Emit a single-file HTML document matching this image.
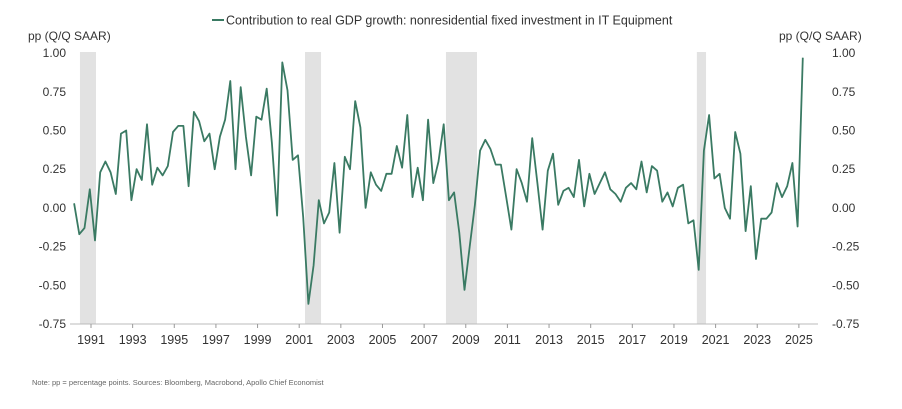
<!DOCTYPE html>
<html><head><meta charset="utf-8"><style>
body{margin:0;background:#fff;font-family:"Liberation Sans",sans-serif;}
svg text{font-family:"Liberation Sans",sans-serif;fill:#333;}
</style></head><body>
<svg id="chart" width="902" height="404">
<g id="bands"></g>
<line x1="70" y1="324" x2="818" y2="324" stroke="#bbb" stroke-width="1"/>
<g id="xticks"></g><g id="yticksL"></g><g id="yticksR"></g>
<path id="series" fill="none" stroke="#3a7a63" stroke-width="1.8" stroke-linejoin="round"/>
<text x="28" y="40" font-size="12">pp (Q/Q SAAR)</text>
<text x="779" y="40" font-size="12">pp (Q/Q SAAR)</text>
<g>
<line x1="212" y1="20" x2="224" y2="20" stroke="#3a7a63" stroke-width="2"/>
<text x="226" y="24.5" font-size="12.5">Contribution to real GDP growth: nonresidential fixed investment in IT Equipment</text>
</g>
<text x="32" y="385" font-size="7.5" fill="#666" style="fill:#666">Note: pp = percentage points. Sources: Bloomberg, Macrobond, Apollo Chief Economist</text>
</svg>
<script>
const startYear = 1990.19;
const values = [0.03,-0.17,-0.13,0.12,-0.21,0.23,0.30,0.23,0.09,0.48,0.50,0.05,0.25,0.18,0.54,0.15,0.26,0.21,0.27,0.49,0.53,0.53,0.14,0.62,0.56,0.43,0.48,0.25,0.46,0.57,0.82,0.25,0.78,0.46,0.21,0.59,0.57,0.77,0.42,-0.05,0.94,0.76,0.31,0.34,-0.06,-0.62,-0.37,0.05,
-0.10,-0.03,0.29,-0.16,0.33,0.25,0.69,0.52,0.00,0.23,0.15,0.11,0.22,0.22,0.40,0.26,0.60,0.07,0.26,0.05,0.57,0.16,0.30,0.54,0.05,0.10,-0.16,-0.53,-0.25,0.02,0.37,0.44,0.38,0.28,0.28,0.07,-0.14,0.25,0.16,0.04,0.45,0.16,-0.14,0.24,0.35,0.02,
0.11,0.13,0.07,0.31,0.01,0.22,0.09,0.16,0.23,0.12,0.09,0.04,0.13,0.16,0.12,0.30,0.10,0.27,0.24,0.04,0.10,0.01,0.13,0.15,-0.10,-0.08,-0.40,0.37,0.60,0.19,0.22,0.00,-0.07,0.49,0.35,-0.15,0.14,-0.33,-0.07,-0.07,-0.03,0.16,0.07,0.14,0.29,-0.12,0.97];
const recessionStarts = [1990.47, 2001.28, 2008.05, 2020.1];
const recessionEnds = [1991.24, 2002.05, 2009.54, 2020.54];
const xTickYears = [1991,1993,1995,1997,1999,2001,2003,2005,2007,2009,2011,2013,2015,2017,2019,2021,2023,2025];
const yTickValues = [1.00,0.75,0.50,0.25,0.00,-0.25,-0.50,-0.75];

const NS="http://www.w3.org/2000/svg";
const xs = y => 91 + (y-1991)*20.82;
const ys = v => 207.9 - v*154.8;
function mk(tag, attrs, parent){const e=document.createElementNS(NS,tag);for(const k in attrs)e.setAttribute(k,attrs[k]);document.getElementById(parent).appendChild(e);return e;}

recessionStarts.forEach((s,i)=>{
  const r=mk('rect',{x:xs(s),y:52,width:xs(recessionEnds[i])-xs(s),height:272,fill:'#e2e2e2'},'bands');
  
  
});
xTickYears.forEach(y=>{
  const l=mk('line',{x1:xs(y),x2:xs(y),y1:324,y2:328,stroke:'#999'},'xticks');
  
  
  const t=mk('text',{x:xs(y),y:344,'font-size':12.5,'text-anchor':'middle'},'xticks');
  t.textContent=y;
  
  
});
yTickValues.forEach(v=>{
  const t=mk('text',{x:66,y:ys(v)+4,'font-size':12,'text-anchor':'end'},'yticksL');
  t.textContent=v.toFixed(2);
  
  
  const t2=mk('text',{x:832,y:ys(v)+4,'font-size':12},'yticksR');
  t2.textContent=v.toFixed(2);
  
  
});
document.getElementById('series').setAttribute('d', values.map((v,i)=>(i?'L':'M')+xs(startYear+i*0.25).toFixed(1)+','+ys(v).toFixed(1)).join(''));
</script>
</body></html>
